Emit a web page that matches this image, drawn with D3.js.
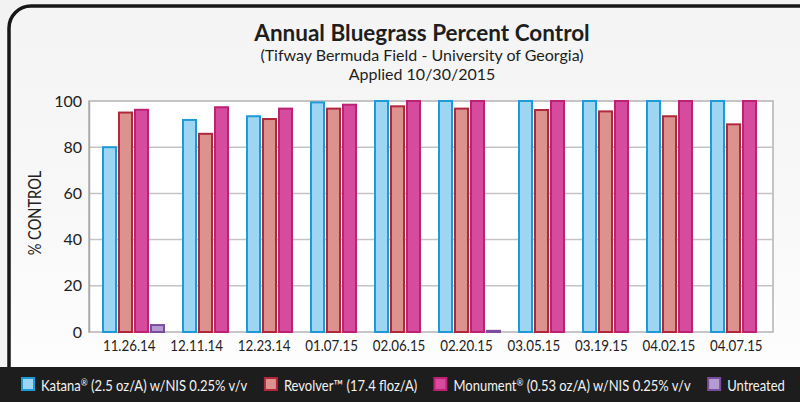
<!DOCTYPE html>
<html lang="en">
<head>
  <meta charset="UTF-8" />
  <script src="https://d3js.org/d3.v7.min.js"></script>
  <style>
    html, body { margin: 0; padding: 0; background: #fff; }
    svg { display: block; font-family: Lato, "Open Sans", sans-serif; }
  </style>
<title>Annual Bluegrass Percent Control</title>
</head>
<body>
  <div id='chart'></div>

  <script>
    // values
    const dates = ["11.26.14", "12.11.14", "12.23.14", "01.07.15", "02.06.15",
                   "02.20.15", "03.05.15", "03.19.15", "04.02.15", "04.07.15"];
    const katana    = [80, 91.8, 93.4, 99.4, 100, 100, 100, 100, 100, 100];
    const revolver  = [95, 85.8, 92.2, 96.7, 97.7, 96.7, 96.1, 95.5, 93.4, 89.9];
    const monument  = [96.2, 97.3, 96.7, 98.4, 100, 100, 100, 100, 100, 100];
    const untreated = [3, null, null, null, null, 0.5, null, null, null, null];
    const yTicks = [0, 20, 40, 60, 80, 100];

    const series = [
      {name: "Katana", sup: "®", rest: " (2.5 oz/A) w/NIS 0.25% v/v", values: katana, fill: "#9dd5f2", stroke: "#1e9bd7"},
      {name: "Revolver™", sup: "", rest: " (17.4 floz/A)", values: revolver, fill: "#dc928f", stroke: "#b0283a"},
      {name: "Monument", sup: "®", rest: " (0.53 oz/A) w/NIS 0.25% v/v", values: monument, fill: "#d64b9d", stroke: "#bd2172"},
      {name: "Untreated", sup: "", rest: "", values: untreated, fill: "#b49bd1", stroke: "#7a4c9e"}
    ];

    const W = 800, H = 402;
    const plot = {left: 89, right: 773, top: 101, bottom: 332};
    const SQUEEZE = 0.86; // reference font is narrower than Lato
    const LEGEND_SQUEEZE = 0.84;

    const svg = d3.select('#chart').append("svg")
        .attr("width", W)
        .attr("height", H);

    let grad = svg.append("defs").append("linearGradient")
        .attr("id", "panelFill")
        .attr("x1", 0).attr("x2", 0).attr("y1", 0).attr("y2", 1);
    grad.append("stop").attr("offset", "0%").attr("stop-color", "#f4f4f4");
    grad.append("stop").attr("offset", "60%").attr("stop-color", "#f9f9f9");
    grad.append("stop").attr("offset", "100%").attr("stop-color", "#ffffff");

    // background panel + rounded frame
    svg.append("rect").attr("width", W).attr("height", H).attr("fill", "#f2f2f2");
    svg.append("rect")
        .attr("x", 9).attr("y", 6).attr("width", W + 20).attr("height", 400)
        .attr("rx", 22)
        .attr("fill", "url(#panelFill)")
        .attr("stroke", "#161616")
        .attr("stroke-width", 3.5);
    // dark legend band
    svg.append("rect")
        .attr("x", 0).attr("y", 367).attr("width", W).attr("height", H - 367)
        .attr("fill", "#1d1d1d");

    // plot area
    svg.append("rect")
        .attr("x", plot.left).attr("y", plot.top)
        .attr("width", plot.right - plot.left).attr("height", plot.bottom - plot.top)
        .attr("fill", "#fff")
        .attr("stroke", "#b3b3b3")
        .attr("stroke-width", 1.5);

    let y = d3.scaleLinear()
      .domain([0, 100])
      .range([plot.bottom, plot.top]);

    // gridlines
    svg.append("g")
      .selectAll("line")
      .data(yTicks.filter(t => t > 0 && t < 100))
      .enter()
      .append("line")
        .attr("x1", plot.left).attr("x2", plot.right)
        .attr("y1", d => y(d)).attr("y2", d => y(d))
        .attr("stroke", "#c4c4c4")
        .attr("stroke-width", 1.5);

    // y axis
    let yAxis = svg.append("g")
      .attr("transform", "translate(" + plot.left + ",0)")
      .call(d3.axisLeft(y).tickValues(yTicks).tickSize(0).tickPadding(7));
    yAxis.select(".domain").attr("stroke", "#a8a8a8").attr("stroke-width", 1.5);
    yAxis.selectAll("text")
      .style("font-size", "16px")
      .style("font-family", "Lato, sans-serif")
      .attr("fill", "#222");

    svg.append("text")
      .attr("transform", "translate(41,213)rotate(-90)scale(" + SQUEEZE + ",1)")
      .attr("text-anchor", "middle")
      .style("font-size", "17px")
      .attr("fill", "#222")
      .text("% CONTROL");

    // bars sit in consecutive slots: one per non-empty value, plus one gap per date
    let bars = [];
    let slot = 0;
    dates.forEach((d, i) => {
      series.forEach(s => {
        if (s.values[i] != null) {
          bars.push({date: d, value: s.values[i], s: s, slot: slot});
          slot += 1;
        }
      });
      slot += 1;
    });
    let totalSlots = slot - 1;

    let xs = d3.scaleLinear()
      .domain([0, totalSlots])
      .range([102, 758]);
    let slotW = xs(1) - xs(0);

    svg.append("g")
      .selectAll("rect")
      .data(bars)
      .enter()
      .append("rect")
        .attr("x", d => xs(d.slot) + 1)
        .attr("width", slotW - 3)
        .attr("y", d => y(d.value))
        .attr("height", d => y(0) - y(d.value))
        .attr("fill", d => d.s.fill)
        .attr("stroke", d => d.s.stroke)
        .attr("stroke-width", 2);

    // date labels (evenly spaced)
    let x = d3.scaleBand()
      .domain(dates)
      .range([95.5, 770]);
    svg.append("g")
      .selectAll("text")
      .data(dates)
      .enter()
      .append("text")
        .attr("transform", d => "translate(" + (x(d) + x.bandwidth() / 2) + ",351)scale(" + SQUEEZE + ",1)")
        .attr("text-anchor", "middle")
        .style("font-size", "15.5px")
        .attr("fill", "#222")
        .text(d => d);

    // titles
    svg.append("text")
      .attr("x", 422).attr("y", 41)
      .attr("text-anchor", "middle")
      .style("font-size", "22.5px")
      .style("font-weight", "bold")
      .attr("fill", "#1e1e1e")
      .text("Annual Bluegrass Percent Control");
    svg.append("text")
      .attr("x", 422).attr("y", 61)
      .attr("text-anchor", "middle")
      .style("font-size", "16px")
      .attr("fill", "#1e1e1e")
      .text("(Tifway Bermuda Field - University of Georgia)");
    svg.append("text")
      .attr("x", 422).attr("y", 80)
      .attr("text-anchor", "middle")
      .style("font-size", "16px")
      .attr("fill", "#1e1e1e")
      .text("Applied 10/30/2015");

    // legend
    let legend = svg.append("g");
    let lx = 21;
    series.forEach(s => {
      let item = legend.append("g").attr("transform", "translate(" + lx + ",0)");
      item.append("rect")
        .attr("x", 1).attr("y", 378)
        .attr("width", 12).attr("height", 12)
        .attr("fill", s.fill)
        .attr("stroke", s.stroke)
        .attr("stroke-width", 2);
      let t = item.append("text")
        .attr("transform", "translate(20,391)scale(" + LEGEND_SQUEEZE + ",1)")
        .style("font-size", "15.5px")
        .attr("fill", "#f2f2f2");
      t.append("tspan").text(s.name);
      if (s.sup) {
        t.append("tspan").attr("dy", -5).style("font-size", "10px").text(s.sup);
        t.append("tspan").attr("dy", 5).text(s.rest);
      } else {
        t.append("tspan").text(s.rest);
      }
      lx += 20 + t.node().getBBox().width * LEGEND_SQUEEZE + 16;
    });
  </script>
</body>
</html>
